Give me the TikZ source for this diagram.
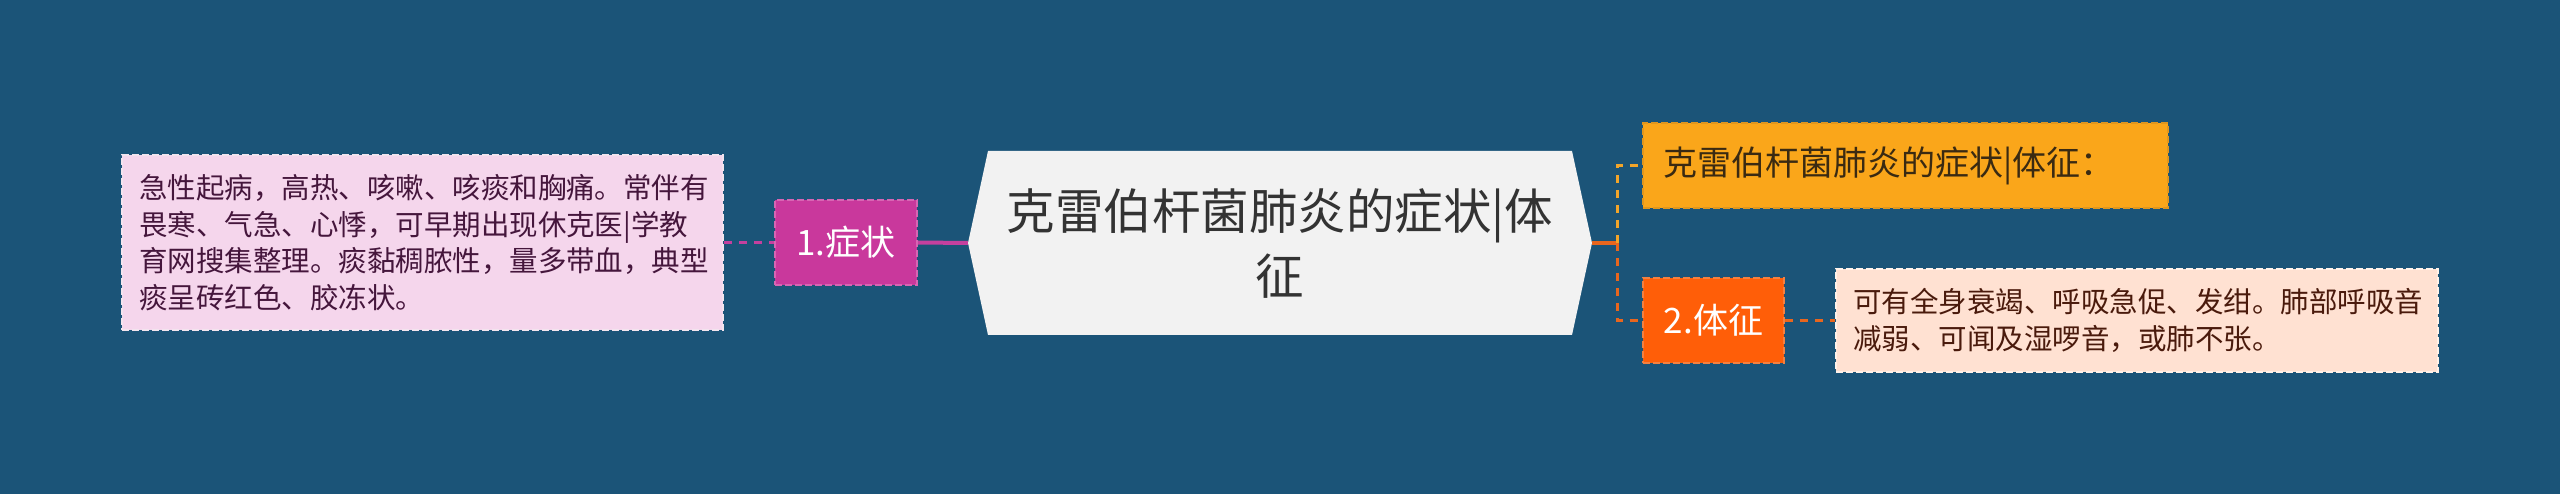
\documentclass[tikz,border=0pt]{standalone}
\usepackage{fontspec}
\setmainfont{Noto Sans CJK SC}
\usetikzlibrary{calc}
\definecolor{bgblue}{HTML}{1B5478}
\definecolor{leftfill}{HTML}{F5D6EC}
\definecolor{leftborder}{HTML}{F2E4EE}
\definecolor{lefttext}{HTML}{45163C}
\definecolor{magentabox}{HTML}{C9389C}
\definecolor{magentaborder}{HTML}{D865B3}
\definecolor{magentaline}{HTML}{C4409E}
\definecolor{centerfill}{HTML}{F2F2F2}
\definecolor{centertext}{HTML}{333333}
\definecolor{amberfill}{HTML}{FAA61A}
\definecolor{amberborder}{HTML}{E0961E}
\definecolor{ambertext}{HTML}{3A2A12}
\definecolor{amberline}{HTML}{F2A52A}
\definecolor{redfill}{HTML}{FF5E08}
\definecolor{redborder}{HTML}{F38040}
\definecolor{redline}{HTML}{E8661E}
\definecolor{peachfill}{HTML}{FFE1D2}
\definecolor{peachborder}{HTML}{FFF2EA}
\definecolor{peachtext}{HTML}{4A1A0C}
\tikzset{
  box/.style={rectangle, inner sep=0pt, line width=2pt, dash pattern=on 7pt off 3pt},
  leftbox/.style={box, fill=leftfill, draw=leftborder, text=lefttext,
    minimum width=601pt, minimum height=175pt, text width=567pt, align=left,
    font=\fontsize{28.5}{36.5}\selectfont},
  magbox/.style={box, fill=magentabox, draw=magentaborder, text=white,
    minimum width=142pt, minimum height=85pt, font=\fontsize{35}{42}\selectfont},
  amberbox/.style={box, fill=amberfill, draw=amberborder, text=ambertext,
    minimum width=525pt, minimum height=85pt, text width=485pt, align=left,
    font=\fontsize{34}{42}\selectfont},
  redbox/.style={box, fill=redfill, draw=redborder, text=white,
    minimum width=141pt, minimum height=85pt, font=\fontsize{35}{42}\selectfont},
  peachbox/.style={box, fill=peachfill, draw=peachborder, text=peachtext,
    minimum width=602pt, minimum height=103pt, text width=568pt, align=left,
    font=\fontsize{28.5}{37}\selectfont},
  centernode/.style={inner sep=0pt, minimum width=624pt, minimum height=184pt,
    text=centertext, align=center, font=\fontsize{48.5}{65}\selectfont},
  dashlink/.style={line width=3pt, dash pattern=on 8pt off 7pt},
  solidlink/.style={line width=4pt},
}
\begin{document}
\begin{tikzpicture}[x=1pt, y=-1pt]
\useasboundingbox (0,0) rectangle (2560,494);
\fill[bgblue] (0,0) rectangle (2560,494);
% central hexagon
\fill[centerfill] (968,243) -- (988,151) -- (1572,151) -- (1592,243) -- (1572,335) -- (988,335) -- cycle;
\node[centernode] (C) at (1280,243) {克雷伯杆菌肺炎的症状|体\\征};
% left branch
\node[magbox] (S1) at (846,242.5) {1.症状};
\node[leftbox] (L) at (422.5,242.5) {急性起病，高热、咳嗽、咳痰和胸痛。常伴有\\畏寒、气急、心悸，可早期出现休克医|学教\\育网搜集整理。痰黏稠脓性，量多带血，典型\\痰呈砖红色、胶冻状。};
% right branch
\node[amberbox] (O) at (1905.5,165.5) {克雷伯杆菌肺炎的症状|体征：};
\node[redbox] (S2) at (1713.5,320.5) {2.体征};
\node[peachbox] (R) at (2137,320.5) {可有全身衰竭、呼吸急促、发绀。肺部呼吸音\\减弱、可闻及湿啰音，或肺不张。};
\coordinate (J) at (1617,243);
% connectors
\draw[dashlink, magentaline] (L.east) -- (S1.west);
\draw[solidlink, magentaline] (S1.east) -- (C.west);
\draw[solidlink, redline] (C.east) -- (J);
\draw[dashlink, amberline] (J) |- (O.west);
\draw[dashlink, redline] (J) |- (S2.west);
\draw[dashlink, redline] (S2.east) -- (R.west);
\end{tikzpicture}
\end{document}
